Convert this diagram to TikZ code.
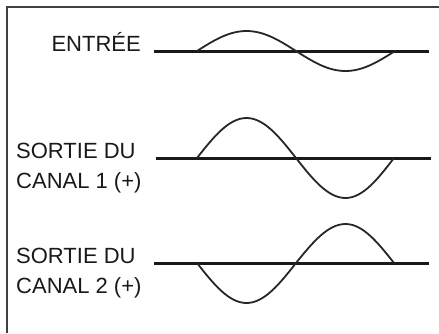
\documentclass[tikz,border=0pt]{standalone}
\usepackage{fontspec}
\setmainfont{Liberation Sans}
\begin{document}
\begin{tikzpicture}[x=1pt, y=-1pt,
    txt/.style={font=\fontsize{22}{30}\selectfont, align=left, inner sep=0pt, text=black!90},
    axe/.style={line width=3pt, black!90},
    onde/.style={line width=1.8pt, black!85},
    cadre/.style={line width=1.6pt, black!75}]
    \useasboundingbox (0,0) rectangle (439,333);

    % cadre (seulement haut et gauche visibles)
    \draw[cadre] (7,333) -- (7,7) -- (439,7);

    % --- Entree ---
    \coordinate (e0) at (154,51);
    \coordinate (e1) at (429,51);
    \draw[axe] (e0) -- (e1);
    \draw[onde] (197,51) sin (246.5,31) cos (296,51) sin (345.5,71) cos (395,51);
    \node[txt, anchor=base east] (entree) at (141,51) {ENTRÉE};

    % --- Sortie du canal 1 (meme phase) ---
    \coordinate (a0) at (156,158);
    \coordinate (a1) at (431,158);
    \draw[axe] (a0) -- (a1);
    \draw[onde] (197,158) sin (246.5,118) cos (296,158) sin (345.5,198) cos (394,158);
    \node[txt, anchor=north west] (canal1) at (16,142.5) {SORTIE DU\\CANAL 1 (+)};

    % --- Sortie du canal 2 (inversee) ---
    \coordinate (b0) at (154,263);
    \coordinate (b1) at (429,263);
    \draw[axe] (b0) -- (b1);
    \draw[onde] (197,263) sin (246.5,303) cos (296,263) sin (345.5,224) cos (394,263);
    \node[txt, anchor=north west] (canal2) at (16,248) {SORTIE DU\\CANAL 2 (+)};

\end{tikzpicture}
\end{document}
